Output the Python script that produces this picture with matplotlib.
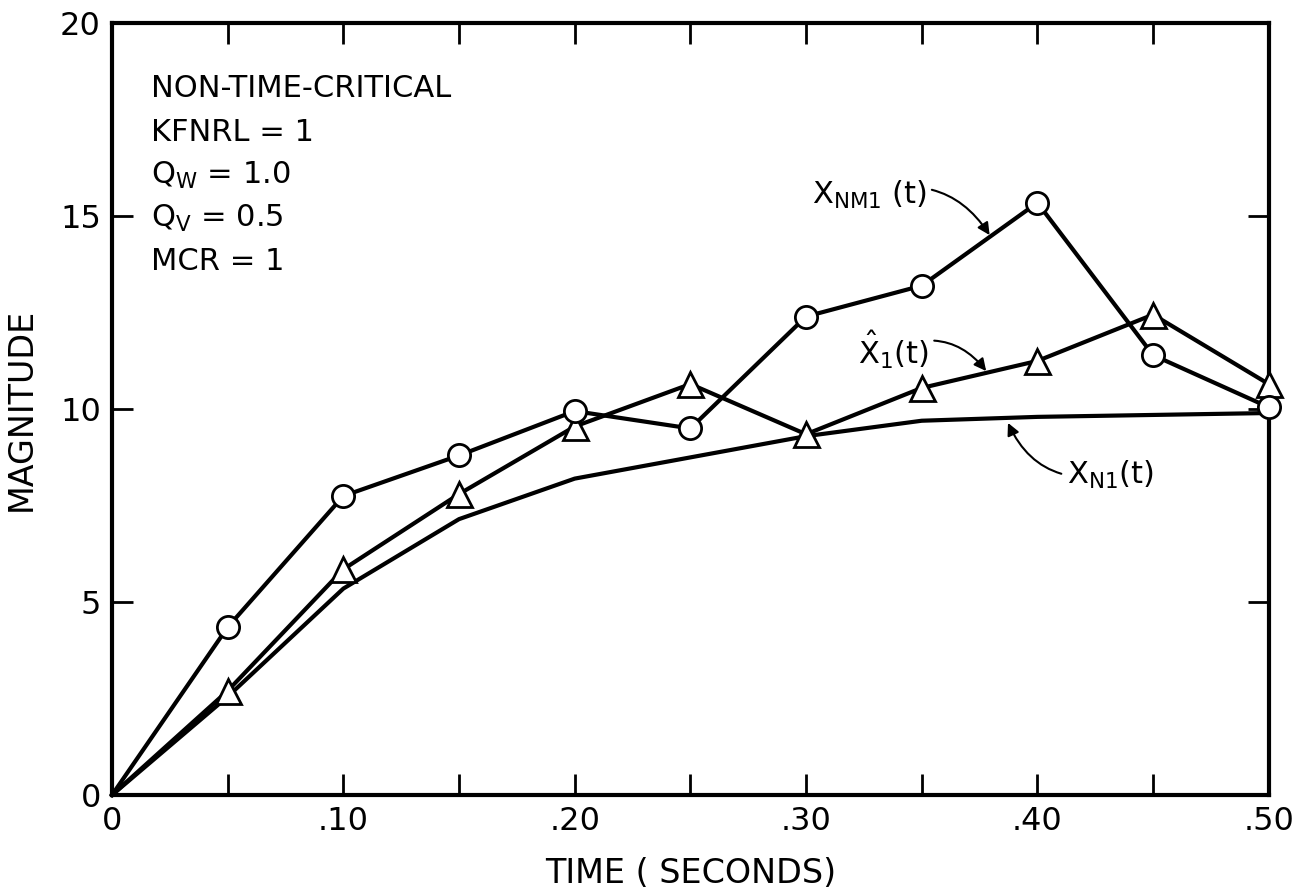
import matplotlib
matplotlib.use("Agg")
import matplotlib.pyplot as plt
import numpy as np

# datos
tiempo = [0.0, 0.05, 0.10, 0.15, 0.20, 0.25, 0.30, 0.35, 0.40, 0.45, 0.50]
x_nm1 = [0.0, 4.35, 7.75, 8.8, 9.95, 9.5, 12.4, 13.2, 15.35, 11.4, 10.05]
x_hat1 = [0.0, 2.7, 5.85, 7.8, 9.55, 10.65, 9.35, 10.55, 11.25, 12.45, 10.65]
x_n1 = [0.0, 2.55, 5.35, 7.15, 8.2, 8.75, 9.3, 9.7, 9.8, 9.85, 9.9]

etiquetas_x = ["0", "", ".10", "", ".20", "", ".30", "", ".40", "", ".50"]
etiquetas_y = ["0", "5", "10", "15", "20"]

plt.rcParams['font.family'] = ['DejaVu Sans']
plt.rcParams['mathtext.default'] = 'regular'

fig = plt.figure(figsize=(12.92, 8.96), dpi=100)
ax = fig.add_axes([0.0867, 0.1127, 0.8953, 0.8613])

ax.plot(tiempo, x_n1, color="black", lw=3, zorder=2)
ax.plot(tiempo, x_hat1, color="black", lw=3, marker="^", ms=18, mfc="white",
        mec="black", mew=2, markevery=range(1, len(tiempo)), zorder=3,
        clip_on=False)
ax.plot(tiempo, x_nm1, color="black", lw=3, marker="o", ms=16, mfc="white",
        mec="black", mew=2, markevery=range(1, len(tiempo)), zorder=4,
        clip_on=False)

ax.set_xlim(0, 0.50)
ax.set_ylim(0, 20)
ax.set_xticks(tiempo)
ax.set_xticklabels(etiquetas_x)
ax.set_yticks([0, 5, 10, 15, 20])
ax.set_yticklabels(etiquetas_y)
ax.tick_params(direction="in", length=15, width=2, labelsize=23,
               top=True, right=True, pad=8)
for s in ax.spines.values():
    s.set_linewidth(3)

ax.set_xlabel("TIME ( SECONDS)", fontsize=24, labelpad=14)
ax.set_ylabel("MAGNITUDE", fontsize=24, labelpad=16)

# texto de parametros
texto = ["NON-TIME-CRITICAL", "KFNRL = 1", r"Q$_W$ = 1.0", r"Q$_V$ = 0.5", "MCR = 1"]
for i, t in enumerate(texto):
    ax.text(0.017, 18.3 - i * 1.12, t, fontsize=22, va="center", ha="left")

# etiquetas con flechas
flecha = dict(arrowstyle="-|>", color="black", lw=1.5, mutation_scale=18)
ax.annotate(r"X$_{NM1}$ (t)", xy=(0.380, 14.45), xytext=(0.352, 15.55),
            fontsize=22, va="center", ha="right",
            arrowprops=dict(flecha, connectionstyle="arc3,rad=-0.4"))
ax.annotate(r"$\hat{X}_{1}$(t)", xy=(0.3786, 10.93), xytext=(0.353, 11.55),
            fontsize=22, va="center", ha="right",
            arrowprops=dict(flecha, connectionstyle="arc3,rad=-0.4"))
ax.annotate(r"X$_{N1}$(t)", xy=(0.3868, 9.71), xytext=(0.4127, 8.3),
            fontsize=22, va="center", ha="left",
            arrowprops=dict(flecha, connectionstyle="arc3,rad=-0.4"))

fig.savefig("out.png", dpi=100)
